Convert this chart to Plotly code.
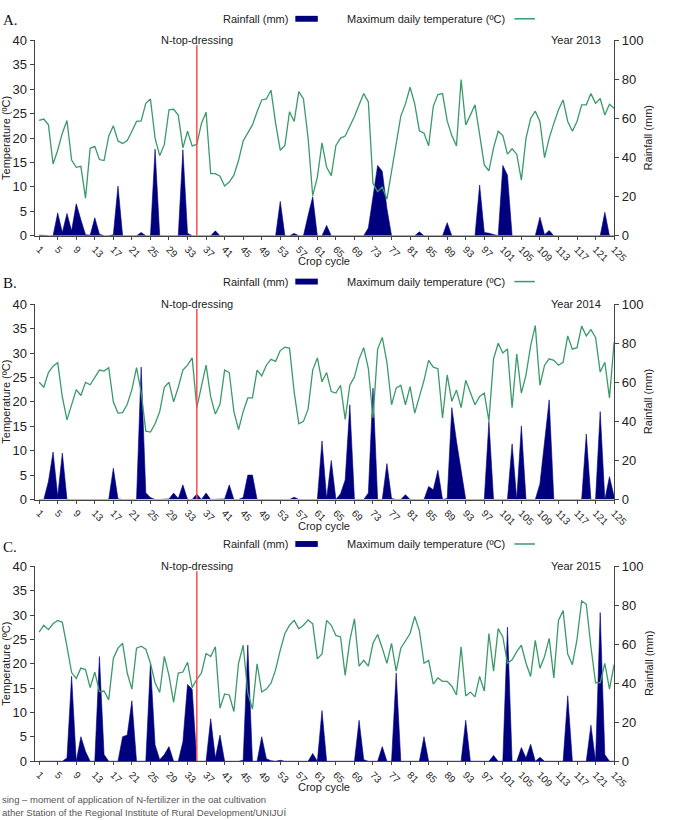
import plotly.graph_objects as go

# ---------------- data ----------------
days = list(range(1, 126))
x_tick_vals = list(range(1, 126, 4))
x_tick_text = [str(v) for v in x_tick_vals]
topdress_day = 35
topdress_top = 39
years = ["Year 2013", "Year 2014", "Year 2015"]
panel_letters = ["A.", "B.", "C."]

temp_2013 = [
    23.6, 23.9, 22.7, 14.7, 17.5, 21.0, 23.6, 15.5, 14.0, 14.2,
    7.7, 17.9, 18.3, 15.6, 15.4, 20.4, 22.5, 19.4, 18.9, 19.5,
    21.4, 23.4, 23.5, 27.1, 28.0, 20.0, 16.4, 18.7, 25.8, 25.9,
    24.7, 18.0, 21.4, 18.4, 18.7, 23.0, 25.3, 12.7, 12.7, 12.2,
    10.2, 11.0, 12.4, 15.4, 19.4, 21.1, 22.7, 25.4, 27.8, 28.0,
    29.8, 23.0, 17.5, 18.5, 25.4, 23.4, 29.5, 28.0, 20.0, 8.2,
    12.0, 19.0, 14.0, 12.3, 18.5, 20.0, 20.4, 22.4, 24.4, 26.8,
    29.1, 27.4, 10.7, 9.0, 10.0, 7.5, 13.0, 18.5, 24.5, 27.0,
    30.4, 27.0, 21.5, 21.0, 18.4, 26.5, 28.9, 29.1, 23.5, 20.5,
    18.4, 32.0, 22.7, 24.7, 26.8, 20.7, 14.5, 13.3, 18.0, 21.4,
    20.5, 16.7, 17.8, 16.7, 11.4, 20.0, 24.0, 25.5, 23.4, 16.0,
    20.0, 23.0, 25.8, 27.8, 23.4, 21.4, 23.4, 26.8, 26.8, 29.1,
    27.1, 28.1, 24.7, 26.9, 26.1,
]
rain_2013 = [
    0.3, 0, 0, 0, 11.7, 1.7, 11.4, 2.5, 16.4, 8.2,
    0.5, 0.3, 9.2, 0.8, 0, 0, 0.5, 25.4, 0, 0,
    0, 0, 1.7, 0, 0, 44.3, 0, 0, 0, 0,
    0, 44.0, 1.3, 0, 0, 0, 0, 0, 2.5, 0,
    0, 0, 0, 0, 0.3, 0, 0, 0, 0, 0,
    0, 0, 17.6, 0, 0, 1.2, 0, 0, 10.4, 20.0,
    0, 0, 5.3, 0, 0, 0, 0, 0, 0, 0,
    0, 4.0, 21.0, 36.0, 33.0, 14.0, 0, 0, 0, 0,
    0, 0, 2.0, 0, 0, 0, 0, 0, 6.7, 0,
    0, 0, 0, 0, 0, 26.0, 1.7, 1.3, 0.5, 0,
    36.0, 31.0, 0, 0, 0.3, 0, 0, 0, 9.5, 0.5,
    2.7, 0, 0, 0, 0, 0, 0, 0, 0, 0,
    0, 0, 12.0, 0, 0,
]
temp_2014 = [
    24.0, 23.0, 26.0, 27.3, 28.0, 21.0, 16.3, 19.5, 22.5, 21.3,
    24.0, 23.5, 25.0, 26.5, 26.3, 27.0, 20.0, 17.7, 17.8, 19.5,
    22.5, 27.0, 22.0, 14.0, 13.8, 15.5, 18.0, 23.0, 24.0, 20.0,
    23.0, 26.5, 27.5, 29.0, 18.8, 23.5, 27.5, 21.0, 17.5, 19.5,
    26.5, 26.0, 18.0, 14.3, 18.0, 20.8, 20.8, 26.5, 25.3, 27.5,
    28.7, 28.3, 30.5, 31.2, 31.0, 22.0, 15.5, 16.0, 18.5, 26.5,
    29.0, 24.1, 26.0, 22.1, 21.8, 23.4, 16.4, 23.4, 25.1, 28.8,
    31.1, 26.8, 16.7, 30.8, 33.2, 28.1, 19.4, 22.8, 23.4, 19.4,
    23.1, 17.7, 20.8, 24.4, 28.5, 27.1, 26.8, 16.7, 25.5, 20.1,
    22.4, 18.8, 24.4, 22.1, 19.4, 21.1, 21.8, 16.1, 28.8, 32.0,
    30.0, 30.8, 18.8, 29.8, 21.8, 25.5, 31.5, 35.6, 23.4, 27.5,
    28.8, 28.5, 27.5, 28.1, 33.5, 30.8, 31.1, 35.5, 33.5, 34.8,
    33.2, 26.1, 28.1, 20.8, 32.2,
]
rain_2014 = [
    0, 0, 9.2, 24.3, 1.7, 23.8, 0, 0, 0, 0,
    0, 0, 0, 0, 0, 0, 16.0, 0.3, 0, 0,
    0, 0, 67.8, 3.3, 1.0, 0, 0, 0, 0.3, 3.3,
    0.5, 7.5, 0, 0, 2.8, 0, 3.3, 0, 0, 0,
    0.3, 7.5, 0, 0, 1.0, 12.5, 12.5, 0, 0, 0,
    0, 0, 0, 0, 0, 1.2, 0, 0, 0, 0,
    0, 30.0, 0.5, 20.0, 0, 3.0, 10.0, 48.5, 0, 0,
    0, 3.3, 57.0, 0, 0, 18.4, 0.5, 0, 0, 2.5,
    0, 0, 0, 0, 6.7, 5.0, 15.0, 0, 0.5, 47.0,
    30.0, 15.0, 0, 0, 0, 0, 0, 40.0, 0, 0,
    0, 0, 28.5, 0, 37.7, 0, 0, 0, 8.0, 30.0,
    51.0, 0, 0, 0, 0, 0, 0, 0, 33.5, 0,
    0, 45.0, 0, 11.7, 1.5,
]
temp_2015 = [
    26.5, 27.9, 27.0, 28.2, 28.9, 28.5, 23.5, 18.2, 17.0, 19.1,
    18.8, 15.1, 18.3, 14.3, 14.4, 12.6, 21.1, 23.2, 24.2, 18.1,
    14.8, 23.2, 23.6, 23.0, 20.1, 16.1, 14.1, 21.5, 17.6, 12.1,
    18.1, 18.3, 20.3, 15.1, 16.8, 18.1, 22.1, 21.5, 23.5, 10.9,
    13.8, 13.6, 10.2, 20.1, 23.8, 14.0, 10.7, 20.0, 14.2, 14.8,
    16.0, 18.8, 22.8, 26.2, 27.9, 28.9, 27.2, 27.9, 29.0, 28.2,
    21.0, 22.0, 28.9, 27.9, 25.8, 25.5, 17.6, 24.8, 29.2, 19.5,
    20.7, 19.5, 24.2, 26.0, 23.2, 20.1, 24.2, 18.5, 23.2, 24.8,
    26.2, 29.7, 26.8, 20.1, 20.7, 15.8, 17.1, 16.4, 16.4, 15.4,
    13.6, 23.5, 13.4, 14.2, 13.2, 17.4, 14.4, 26.2, 18.5, 27.2,
    25.5, 20.1, 20.8, 22.5, 23.8, 20.1, 17.4, 24.8, 19.1, 21.5,
    25.2, 17.1, 28.9, 30.9, 22.0, 19.8, 25.0, 32.9, 32.2, 23.5,
    16.1, 16.1, 20.1, 14.8, 19.8,
]
rain_2015 = [
    0, 0, 0, 0, 0, 0, 1.7, 43.6, 0, 12.6,
    5.0, 0, 0, 53.7, 3.4, 0, 0, 0, 12.6, 13.4,
    31.0, 0, 0, 0, 50.3, 8.4, 0.8, 3.4, 7.5, 0,
    0, 10.0, 39.4, 36.9, 0, 0, 0, 21.8, 1.7, 13.4,
    0, 0, 0, 0, 0.5, 59.6, 0, 0, 12.6, 1.3,
    0.3, 0, 0.5, 0, 0, 0, 0, 0, 0, 4.0,
    0, 26.0, 0, 0, 0, 0, 0, 0, 0, 21.0,
    0.8, 0, 0, 0, 7.5, 0, 0, 45.3, 0, 0,
    0, 0, 0, 12.6, 0, 0, 0, 0, 0, 0,
    0, 0, 21.0, 0, 0, 0, 0, 0, 3.0, 0,
    0, 68.8, 0, 0, 7.0, 1.7, 8.7, 0, 2.0, 0,
    0, 0, 0, 0, 33.6, 0, 0, 0, 0, 18.5,
    0, 76.3, 3.4, 0, 0,
]
temps = [temp_2013, temp_2014, temp_2015]
rains = [rain_2013, rain_2014, rain_2015]

# ---------------- layout geometry (pixels) ----------------
W, H = 678, 820
X_LEFT, X_RIGHT = 35.3, 628.0
plot_tops = [34.0, 302.7, 569.7]
plot_bottoms = [233.0, 501.7, 768.3]
legend_ys = [12.0, 279.7, 547.0]
letter_ys = [13.0, 281.0, 549.7]
xtitle_ys = [258.5, 528.5, 795.0]

NAVY = "#00007F"
GREEN = "#3A9A6A"
RED = "#FF4A4A"
AXIS = "#444444"
TXT = "#222222"
FONT = "Liberation Sans, Arial, sans-serif"


def px(x):
    return x / W


def py(y):
    return 1 - y / H


fig = go.Figure()
layout = dict(
    width=W, height=H, margin=dict(l=0, r=0, t=0, b=0),
    paper_bgcolor="white", plot_bgcolor="white", showlegend=False,
    font=dict(family=FONT, size=11, color=TXT),
)
annotations = []
shapes = []

for i in range(3):
    xname = "x" if i == 0 else f"x{i + 1}"
    rname = f"y{2 * i + 1}" if i > 0 else "y"
    tname = f"y{2 * i + 2}"
    xkey = "xaxis" if i == 0 else f"xaxis{i + 1}"
    rkey = "yaxis" if i == 0 else f"yaxis{2 * i + 1}"
    tkey = f"yaxis{2 * i + 2}"

    layout[xkey] = dict(
        domain=[px(X_LEFT), px(X_RIGHT)], range=[0, 125], anchor=rname,
        tickmode="array", tickvals=x_tick_vals, ticktext=x_tick_text,
        tickangle=45, ticks="outside", ticklen=3, tickcolor=AXIS,
        showline=True, linecolor=AXIS, linewidth=1, showgrid=False, zeroline=False,
        tickfont=dict(size=10, color=TXT, family=FONT),
    )
    layout[rkey] = dict(
        domain=[py(plot_bottoms[i]), py(plot_tops[i])], range=[0, 100], anchor=xname,
        side="right", tickvals=[0, 20, 40, 60, 80, 100], ticks="outside", ticklen=4,
        tickcolor=AXIS, showline=True, linecolor=AXIS, linewidth=1, showgrid=False,
        zeroline=False, tickfont=dict(size=13, color=TXT, family=FONT),
    )
    layout[tkey] = dict(
        overlaying=rname, range=[0, 40], anchor=xname, side="left",
        tickvals=list(range(0, 41, 5)), ticks="outside", ticklen=4, tickcolor=AXIS,
        showline=True, linecolor=AXIS, linewidth=1, showgrid=False, zeroline=False,
        tickfont=dict(size=13, color=TXT, family=FONT),
    )

    fig.add_trace(go.Scatter(
        x=days, y=rains[i], xaxis=xname, yaxis=rname, mode="lines",
        fill="tozeroy", fillcolor=NAVY, line=dict(color=NAVY, width=0.6),
        hoverinfo="skip",
    ))
    fig.add_trace(go.Scatter(
        x=days, y=temps[i], xaxis=xname, yaxis=tname, mode="lines",
        line=dict(color=GREEN, width=1.3), hoverinfo="skip",
    ))
    fig.add_trace(go.Scatter(
        x=[topdress_day, topdress_day], y=[0, topdress_top], xaxis=xname, yaxis=tname,
        mode="lines", line=dict(color=RED, width=1.5), hoverinfo="skip",
    ))

    mid = (plot_tops[i] + plot_bottoms[i]) / 2
    ly = legend_ys[i]
    annotations += [
        dict(text="N-top-dressing", x=topdress_day, xref=xname, y=40, yref=tname,
             xanchor="center", yanchor="middle", showarrow=False, font=dict(size=11)),
        dict(text=years[i], x=px(617), xref="paper", y=40, yref=tname,
             xanchor="right", yanchor="middle", showarrow=False, font=dict(size=11)),
        dict(text="Rainfall (mm)", x=px(297), xref="paper", y=py(ly), yref="paper",
             xanchor="right", yanchor="middle", showarrow=False, font=dict(size=11)),
        dict(text="Maximum daily temperature (ºC)", x=px(518), xref="paper", y=py(ly),
             yref="paper", xanchor="right", yanchor="middle", showarrow=False,
             font=dict(size=11)),
        dict(text=panel_letters[i], x=px(1), xref="paper", y=py(letter_ys[i]), yref="paper",
             xanchor="left", yanchor="middle", showarrow=False,
             font=dict(size=15, family="Liberation Serif, DejaVu Serif, serif", color="#111")),
        dict(text="Temperature (ºC)", x=px(6), xref="paper", y=py(mid), yref="paper",
             xanchor="center", yanchor="middle", textangle=-90, showarrow=False,
             font=dict(size=11)),
        dict(text="Rainfall (mm)", x=px(663), xref="paper", y=py(mid), yref="paper",
             xanchor="center", yanchor="middle", textangle=-90, showarrow=False,
             font=dict(size=11)),
        dict(text="Crop cycle", x=px((X_LEFT + X_RIGHT) / 2), xref="paper",
             y=py(xtitle_ys[i]), yref="paper", xanchor="center", yanchor="middle",
             showarrow=False, font=dict(size=11)),
    ]
    shapes += [
        dict(type="rect", xref="paper", yref="paper", x0=px(302), x1=px(325),
             y0=py(ly + 3), y1=py(ly - 3), fillcolor=NAVY, line=dict(width=0)),
        dict(type="line", xref="paper", yref="paper", x0=px(526), x1=px(547),
             y0=py(ly), y1=py(ly), line=dict(color=GREEN, width=1.5)),
    ]

note_font = dict(size=9.5, color="#555555",
                 family="Liberation Sans Narrow, Arial Narrow, Liberation Sans, sans-serif")
annotations += [
    dict(text="sing – moment of application of N-fertilizer in the oat cultivation",
         x=0, xref="paper", y=py(807), yref="paper", xanchor="left", yanchor="middle",
         showarrow=False, font=note_font),
    dict(text="ather Station of the Regional Institute of Rural Development/UNIJUÍ",
         x=0, xref="paper", y=py(821), yref="paper", xanchor="left", yanchor="middle",
         showarrow=False, font=note_font),
]

layout["annotations"] = annotations
layout["shapes"] = shapes
fig.update_layout(**layout)
fig.write_html("out.html")
